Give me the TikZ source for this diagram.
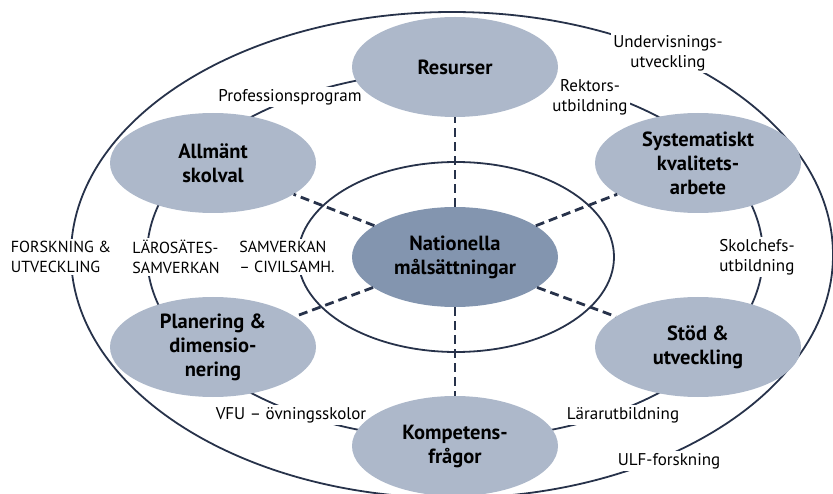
\documentclass[tikz,border=0pt]{standalone}
\usepackage{fontspec}
\setmainfont{PT Sans}
\usetikzlibrary{shapes.geometric}
\definecolor{ringnavy}{HTML}{27324A}
\definecolor{topicfill}{HTML}{ADB8CA}
\definecolor{corefill}{HTML}{8395AF}
\tikzset{
    diagramtopic/.style={ellipse, fill=topicfill, minimum width=206pt, minimum height=100pt, inner sep=0pt, align=center, font=\fontsize{20.5}{24}\selectfont\bfseries},
    diagramcore/.style={diagramtopic, fill=corefill},
    diagramlink/.style={ringnavy, line width=2.8pt, dash pattern=on 9pt off 5pt},
    diagramring/.style={ringnavy, line width=1.8pt},
    diagramnote/.style={fill=white, inner sep=2.5pt, align=center, font=\fontsize{17}{20}\selectfont},
    diagramcaps/.style={diagramnote, align=left, font=\fontsize{16}{20}\selectfont}
}

\begin{document}
\begin{tikzpicture}[x=1pt, y=-1pt]
    \useasboundingbox (0,0) rectangle (833,494);
    \clip (0,0) rectangle (833,494);
    % rings
    \draw[diagramring] (452,255) ellipse [x radius=381, y radius=243];
    \draw[diagramring] (455,255) ellipse [x radius=308, y radius=184];
    \draw[diagramring] (456,257) ellipse [x radius=158, y radius=95];
    % labels on the rings
    \node[diagramnote] (prof) at (290,97) {Professionsprogram};
    \node[diagramnote] (underv) at (668,53) {Undervisnings-\\utveckling};
    \node[diagramnote] (rektor) at (590,97) {Rektors-\\utbildning};
    \node[diagramnote, align=left] (skolchef) at (757,257) {Skolchefs-\\utbildning};
    \node[diagramnote] (larar) at (623,415) {Lärarutbildning};
    \node[diagramnote] (ulf) at (669,461) {ULF-forskning};
    \node[diagramnote] (vfu) at (291,415) {VFU -- övningsskolor};
    \node[diagramcaps] (forsk) at (61,257) {FORSKNING \&\\UTVECKLING};
    \node[diagramcaps] (larosate) at (176,257) {LÄROSÄTES-\\SAMVERKAN};
    \node[diagramcaps] (civil) at (287,257) {SAMVERKAN\\-- CIVILSAMH.};
    % topics
    \node[diagramcore] (nat) at (455,257) {Nationella\\målsättningar};
    \node[diagramtopic] (res) at (455,67) {Resurser};
    \node[diagramtopic] (allm) at (213,163) {Allmänt\\skolval};
    \node[diagramtopic] (sys) at (698,163) {Systematiskt\\kvalitets-\\arbete};
    \node[diagramtopic] (plan) at (213,347) {Planering \&\\dimensio-\\nering};
    \node[diagramtopic] (stod) at (698,347) {Stöd \&\\utveckling};
    \node[diagramtopic] (komp) at (455,446) {Kompetens-\\frågor};
    \draw[diagramlink] (nat) -- (res);
    \draw[diagramlink] (nat) -- (allm);
    \draw[diagramlink] (nat) -- (sys);
    \draw[diagramlink] (nat) -- (plan);
    \draw[diagramlink] (nat) -- (stod);
    \draw[diagramlink] (nat) -- (komp);
\end{tikzpicture}
\end{document}
